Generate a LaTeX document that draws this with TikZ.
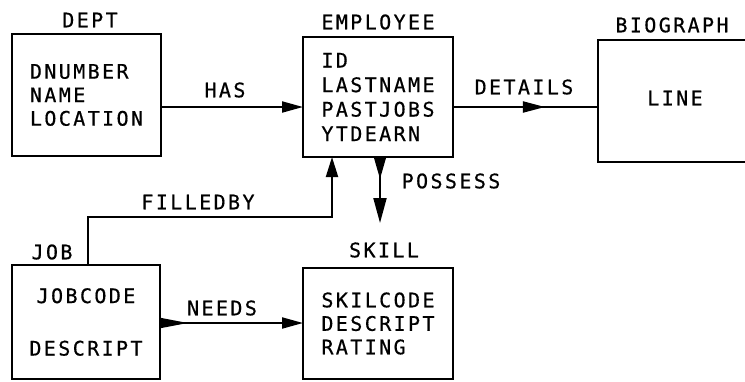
\documentclass[tikz,border=0pt]{standalone}
\usepackage{fontspec}
\usetikzlibrary{arrows.meta,decorations.markings}
\newfontfamily\plotfont{DejaVu Sans Mono}[LetterSpace=12,FakeBold=0.6]
\begin{document}
\begin{tikzpicture}[x=1pt,y=-1pt,
  every node/.style={font=\plotfont\fontsize{20}{23.5}\selectfont, inner sep=0pt, outer sep=0pt},
  box/.style={draw, line width=2.9pt, anchor=north west, align=left},
  conn/.style={line width=2pt},
  headtip/.style={-{Triangle[length=21pt,width=11pt]}},
  midarrow/.style={postaction={decorate}, decoration={markings,
      mark=at position #1 with {\arrow{Triangle[length=22pt,width=11pt]}}}}
]
\clip (0,0) rectangle (745,381);
\fill[white] (0,0) rectangle (745,381);

% boxes
\node[box, minimum width=149pt, minimum height=122pt] (dept) at (12,34)
  {DNUMBER\\NAME\\LOCATION};
\node[box, minimum width=150pt, minimum height=120pt,
  font=\plotfont\fontsize{20}{24.5}\selectfont] (emp) at (303,37)
  {ID\\LASTNAME\\PASTJOBS\\YTDEARN};
\node[box, minimum width=200pt, minimum height=122pt] (bio) at (598,40) {};
\node (bioline) at (675,98) {LINE};
\node[box, minimum width=148pt, minimum height=114pt, align=center] (job) at (12,265)
  {JOBCODE\\[29pt]DESCRIPT};
\node[box, minimum width=150pt, minimum height=111pt] (skill) at (303,268)
  {SKILCODE\\DESCRIPT\\RATING};

% entity labels
\node (deptlbl) at (90,20) {DEPT};
\node (emplbl) at (378,22) {EMPLOYEE};
\node (biolbl) at (672,25) {BIOGRAPH};
\node (joblbl) at (52,252) {JOB};
\node (skilllbl) at (384,250) {SKILL};

% relationship labels
\node (has) at (225,90) {HAS};
\node (details) at (524,87) {DETAILS};
\node (possess) at (451,181) {POSSESS};
\node (filledby) at (198,202) {FILLEDBY};
\node (needs) at (222,308) {NEEDS};

% connectors
\draw[conn, headtip] (dept.east |- 0,107) -- (emp.west |- 0,107);
\draw[conn, midarrow=0.634] (emp.east |- 0,107) -- (bio.west |- 0,107);

\coordinate (possend) at (380,223);
\draw[conn, {Triangle[reversed,length=22pt,width=12pt]}-{Triangle[length=25pt,width=13pt]}]
  (emp.south -| possend) -- (possend);

\coordinate (fb1) at (88,217);
\coordinate (fb2) at (332,217);
\draw[conn, -{Triangle[length=20pt,width=12pt]}]
  (job.north -| fb1) -- (fb1) -- (fb2) -- (emp.south -| fb2);

\draw[conn, {Triangle[reversed,length=28pt,width=10pt]}-{Triangle[length=21pt,width=11pt]}]
  (job.east |- 0,323) -- (skill.west |- 0,323);
\end{tikzpicture}
\end{document}
